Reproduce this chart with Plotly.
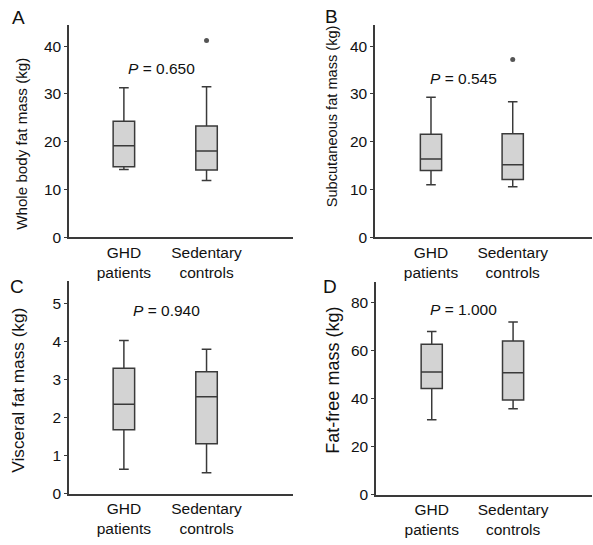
import plotly.graph_objects as go
from plotly.subplots import make_subplots

groups = ["GHD<br>patients", "Sedentary<br>controls"]
panels = ["A", "B", "C", "D"]
ytitles = ["Whole body fat mass (kg)", "Subcutaneous fat mass (kg)",
           "Visceral fat mass (kg)", "Fat-free mass (kg)"]
pvalues = ["0.650", "0.545", "0.940", "1.000"]

# per panel: [GHD, controls]
q1 = [[14.8, 14.1], [14.0, 12.1], [1.68, 1.31], [44.2, 39.4]]
med = [[19.2, 18.1], [16.4, 15.2], [2.35, 2.55], [51.0, 50.7]]
q3 = [[24.3, 23.3], [21.6, 21.7], [3.30, 3.21], [62.6, 64.0]]
lo = [[14.2, 11.9], [11.0, 10.6], [0.64, 0.55], [31.2, 35.8]]
hi = [[31.3, 31.5], [29.3, 28.4], [4.03, 3.80], [67.9, 71.9]]
outlier_group = [1, 1, None, None]
outlier_val = [41.2, 37.2, None, None]

yranges = [[0, 44.5], [0, 44.5], [0, 5.6], [0, 88.6]]
ytickvals = [[0, 10, 20, 30, 40], [0, 10, 20, 30, 40], [0, 1, 2, 3, 4, 5], [0, 20, 40, 60, 80]]
p_y = [35.3, 33.2, 4.81, 77.0]

# layout / style (pixels)
W, H = 593, 545
xdom = [[69, 293], [375, 592], [69, 293], [376, 592]]
ydom = [[25, 241], [25, 241], [285, 501], [286, 502]]
letter_pos = [[18, 18], [331, 17], [17, 291], [330, 291]]
ytitle_pos = [[22, 146], [331.5, 118.5], [18.5, 396], [333.3, 386]]
ytitle_size = [15.2, 14.6, 17.2, 18]
p_x = [0.45, 0.4, 0.52, 0.39]
xranges = [[-0.664, 2.046], [-0.685, 1.97], [-0.664, 2.046], [-0.685, 1.97]]

fig = make_subplots(rows=2, cols=2)
FONT = "Liberation Sans, Arial, sans-serif"
LINE = "#3a3a3a"
TXT = "#111111"

for i in range(4):
    r, c = i // 2 + 1, i % 2 + 1
    for g in range(2):
        fig.add_trace(go.Box(
            x=[g], q1=[q1[i][g]], median=[med[i][g]], q3=[q3[i][g]],
            lowerfence=[lo[i][g]], upperfence=[hi[i][g]],
            width=0.26, whiskerwidth=0.45,
            fillcolor="#d3d3d3", line=dict(color=LINE, width=1.5),
            boxpoints=False, showlegend=False, hoverinfo="skip"), row=r, col=c)
    if outlier_val[i] is not None:
        fig.add_trace(go.Scatter(
            x=[outlier_group[i]], y=[outlier_val[i]], mode="markers",
            marker=dict(color="#555555", size=5), showlegend=False, hoverinfo="skip"),
            row=r, col=c)
    ax = "" if i == 0 else str(i + 1)
    fig.update_layout(**{
        f"xaxis{ax}": dict(
            domain=[xdom[i][0] / W, xdom[i][1] / W], range=xranges[i],
            tickvals=[0, 1], ticktext=groups, showline=True, linecolor=LINE, linewidth=1.5,
            ticks="", showgrid=False, zeroline=False, tickfont=dict(size=15.5, color=TXT)),
        f"yaxis{ax}": dict(
            domain=[1 - ydom[i][1] / H, 1 - ydom[i][0] / H], range=yranges[i],
            tickvals=ytickvals[i], showline=True, linecolor=LINE, linewidth=1.5,
            ticks="outside", ticklen=3, tickcolor=LINE, tickwidth=1.2,
            showgrid=False, zeroline=False, tickfont=dict(size=15.5, color=TXT)),
    })
    xref = "x" + ax
    yref = "y" + ax
    fig.add_annotation(x=p_x[i], y=p_y[i], xref=xref, yref=yref,
                       text=f"<i>P</i> = {pvalues[i]}", showarrow=False,
                       xanchor="center", yanchor="middle",
                       font=dict(size=15.5, color=TXT))
    fig.add_annotation(x=letter_pos[i][0] / W, y=1 - letter_pos[i][1] / H,
                       xref="paper", yref="paper", text=panels[i], showarrow=False,
                       xanchor="center", yanchor="middle",
                       font=dict(size=19, color=TXT))
    fig.add_annotation(x=ytitle_pos[i][0] / W, y=1 - ytitle_pos[i][1] / H,
                       xref="paper", yref="paper", text=ytitles[i], showarrow=False,
                       xanchor="center", yanchor="middle",
                       textangle=-90, font=dict(size=ytitle_size[i], color=TXT))

fig.update_layout(width=W, height=H, margin=dict(l=0, r=0, t=0, b=0),
                  plot_bgcolor="white", paper_bgcolor="white",
                  font=dict(family=FONT, color=TXT))

fig.write_html("out.html")
